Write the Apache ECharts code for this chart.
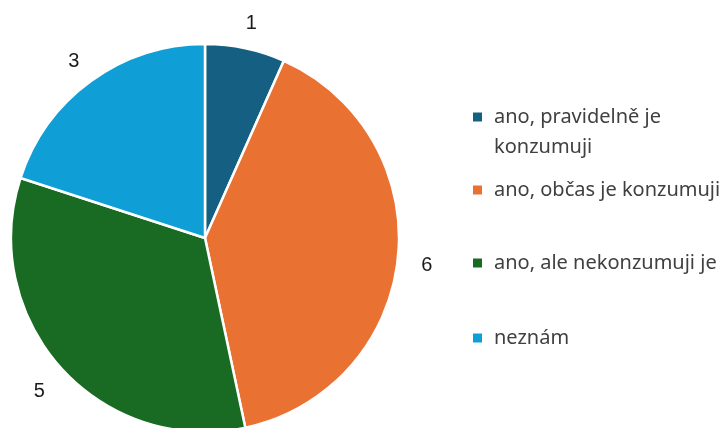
<!DOCTYPE html>
<html>
<head>
<meta charset="utf-8">
<script src="https://cdn.jsdelivr.net/npm/echarts@6/dist/echarts.min.js"></script>
<style>
  html, body { margin: 0; padding: 0; background: #fff; }
  #chart { width: 722px; height: 428px; }
</style>
</head>
<body>
<div id="chart"></div>
<script>
// data
var categories = ["ano, pravidelně je konzumuji", "ano, občas je konzumuji", "ano, ale nekonzumuji je", "neznám"];
var counts = [1, 6, 5, 3];
var colors = ["#156082", "#E97132", "#196B24", "#0F9ED5"];

// legend: the first entry wraps onto two lines (leading blank line keeps line 1 level with the marker)
var legendLabels = ["\nano, pravidelně je\nkonzumuji", "ano, občas je konzumuji", "ano, ale nekonzumuji je", "neznám"];
var legendTops = [72, 175, 248, 323];

var chart = echarts.init(document.getElementById("chart"));

var pieData = categories.map(function (name, i) {
  return { name: name, value: counts[i], itemStyle: { color: colors[i] } };
});

var option = {
  animation: false,
  legend: categories.map(function (name, i) {
    return {
      data: [name],
      orient: "vertical",
      left: 471,
      top: legendTops[i],
      padding: 0,
      itemWidth: 11,
      itemHeight: 11,
      icon: "rect",
      selectedMode: false,
      formatter: function () { return legendLabels[i]; },
      textStyle: {
        fontFamily: "Noto Sans",
        fontSize: 20,
        color: "#404040",
        lineHeight: 30,
        padding: [0, 0, 0, 6],
      },
    };
  }),
  series: [
    {
      type: "pie",
      center: [205, 238],
      radius: 194,
      startAngle: 90,
      itemStyle: { borderColor: "#fff", borderWidth: 2.5 },
      label: { show: false },
      labelLine: { show: false },
      emphasis: { disabled: true },
      data: pieData,
    },
    {
      // transparent ring that only carries the value labels
      type: "pie",
      silent: true,
      center: [205, 238],
      radius: [212, 228],
      startAngle: 90,
      itemStyle: { color: "rgba(0,0,0,0)" },
      label: {
        show: true,
        position: "inside",
        formatter: "{c}",
        fontFamily: "Liberation Sans",
        fontSize: 20,
        color: "#1a1a1a",
        offset: [0, 4],
      },
      labelLine: { show: false },
      emphasis: { disabled: true },
      data: counts.map(function (v, i) { return { name: categories[i], value: v }; }),
    },
  ],
};

chart.setOption(option);
</script>
</body>
</html>
